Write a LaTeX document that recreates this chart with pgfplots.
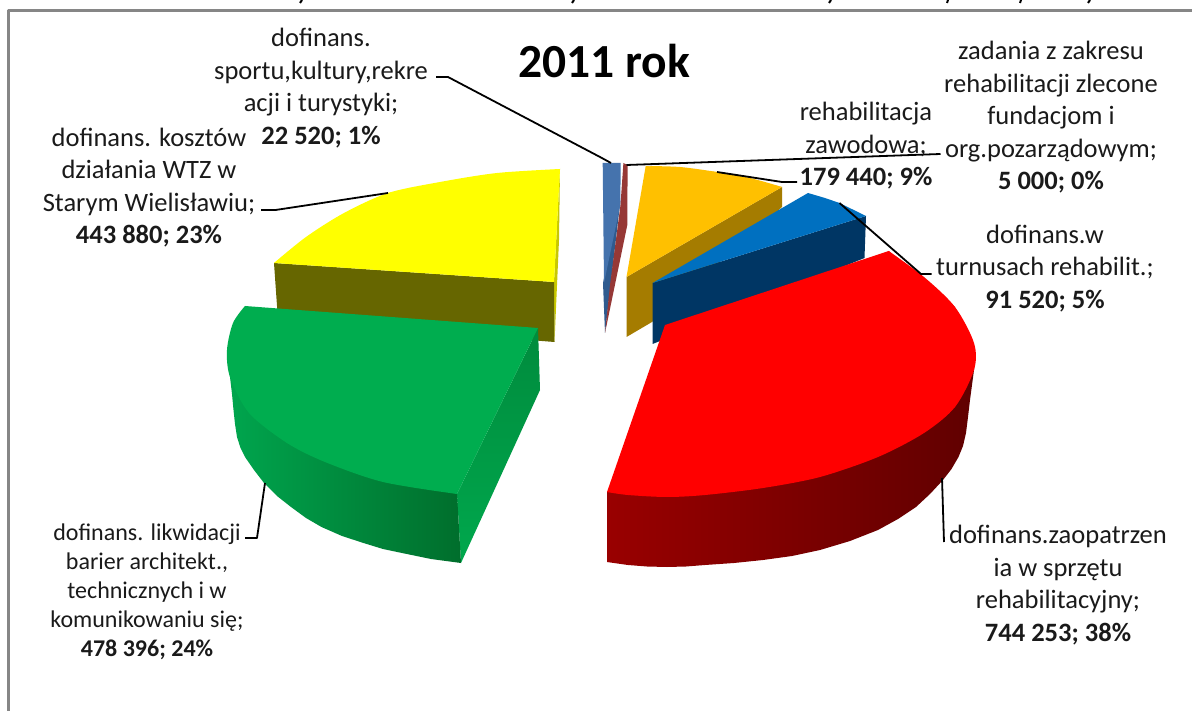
\documentclass[border=0pt]{standalone}
\usepackage{pgfplots}
\pgfplotsset{compat=1.18}
\usepackage{fontspec}
\setmainfont{Carlito}
\definecolor{frame}{HTML}{868686}
\definecolor{txt}{HTML}{1A1A1A}
\definecolor{steel}{HTML}{4573AD}
\definecolor{steeld}{HTML}{2F5B8F}
\definecolor{maroon}{HTML}{963836}
\definecolor{orangep}{HTML}{FFC000}
\definecolor{oranged}{HTML}{A57C00}
\definecolor{bluep}{HTML}{0070C0}
\definecolor{blued}{HTML}{003664}
\definecolor{yellowp}{HTML}{FFFF00}
\definecolor{yellowd}{HTML}{666600}
\definecolor{yellowm}{HTML}{C8C800}
\definecolor{greenp}{HTML}{00AD4F}
\definecolor{greena}{HTML}{00A64E}
\definecolor{greenb}{HTML}{009642}
\definecolor{greenc}{HTML}{006E2C}
\definecolor{greent}{HTML}{008B3D}
\definecolor{greenu}{HTML}{00A84D}
\definecolor{reda}{HTML}{990000}
\definecolor{redb}{HTML}{600000}
\tikzset{lab/.style={align=center, anchor=north, inner sep=0pt, text=txt, font=\fontsize{26.5}{32.5}\selectfont}}
\begin{document}
\begin{tikzpicture}
\begin{axis}[
  scale only axis, width=1192pt, height=711pt,
  xmin=0, xmax=1192, ymin=0, ymax=711, y dir=reverse,
  hide axis, clip=true,
  every axis plot/.append style={line join=round},
]
% page background
\addplot[draw=none, fill=white] coordinates {(0,0) (1192,0) (1192,711) (0,711)} --cycle;
% chart frame
\addplot[frame, line width=3pt] coordinates {(1192,10.5) (8.5,10.5) (8.5,711)};
% what is left of the cropped line above the chart
\addplot[black, line width=2pt] coordinates {(302,0) (300,3)};
\addplot[black, line width=2pt] coordinates {(574,0) (572,3)};
\addplot[black, line width=2pt] coordinates {(831,0) (829,3)};
\addplot[black, line width=2pt] coordinates {(948,0) (947,3)};
\addplot[black, line width=2pt] coordinates {(1021,0) (1020,3)};
\addplot[black, line width=2pt] coordinates {(1090,0) (1088,3)};

% thin slices at the back
\addplot[draw=none, fill=steeld] coordinates {(603,283) (620.5,200) (605,333)} --cycle;
\addplot[draw=none, fill=steel] coordinates {(602.7,163) (620.7,163) (620.3,205) (604,283)} --cycle;
\addplot[draw=none, fill=maroon] coordinates {(623.4,163) (627.6,165) (627.3,225) (605,333) (610,285) (620.5,205)} --cycle;

% orange slice
\addplot[draw=none, fill=oranged] coordinates {(626.5,277) (782,187) (782,207) (652,322) (626.5,337)} --cycle;
\addplot[draw=none, fill=orangep] coordinates {(645.7,166) (717,172) (782,187) (626.5,277)} --cycle;
\addplot[draw=none, fill=orangep, smooth] coordinates {(645.7,166) (680,167) (717,172) (750,178) (782,187)};

% blue slice
\addplot[draw=none, fill=blued] coordinates {(652.6,283) (866,216) (864.5,258) (652.6,344)} --cycle;
\addplot[draw=none, fill=bluep] coordinates {(808,193) (825,198) (839.5,203) (866,216) (652.6,283)} --cycle;

% yellow slice
\addplot[draw=none, fill=yellowm] coordinates {(560,169) (559,240) (554.5,342) (554,282)} --cycle;
\addplot[draw=none, fill=yellowd] coordinates {(274,263) (554,282) (554.5,342) (278,320)} --cycle;
\addplot[draw=none, fill=yellowp] coordinates {(560,169) (554,282) (274,263) (388,193)} --cycle;
\addplot[draw=none, fill=yellowp, smooth] coordinates {(560,169) (497,173) (440,182) (388,193) (344,213) (306,237) (274,263)};

% green slice
\addplot[draw=none, top color=greent, bottom color=greenu] coordinates {(538,328) (540,390) (461,563) (457,494)} --cycle;
\addplot[draw=none, left color=greena, middle color=greenb, right color=greenc] coordinates {(227,350) (228.5,364) (230,377) (232,394) (233.5,410) (235,424) (237,437) (240.5,448) (245,457) (254,470) (264,483) (277,496) (291,507) (306,518) (321.5,527) (342,536) (363.5,543) (383,549) (402,553) (431,559) (461,563) (457,494)} --cycle;
\addplot[draw=none, fill=greenp] coordinates {(245,306) (538,328) (457,494) (287,443) (230,377)} --cycle;
\addplot[draw=none, fill=greenp, smooth] coordinates {(245,306) (233,323) (227,350) (230,377) (249,413) (287,443) (325,462) (383,482) (457,494)};

% red slice
\addplot[draw=none, left color=reda, middle color=redb, right color=redb] coordinates {(975,350) (974.5,360) (974,370) (972,385) (970,400) (968,417) (966,433) (963,446) (958.5,457) (951.5,469) (943,480) (930,494) (916,507) (898,519) (878,530) (850,541) (820,550) (792,556) (763,560) (734,563) (705,565) (686,566.5) (667,567) (647,566.5) (628,565) (607,562) (607,492)} --cycle;
\addplot[draw=none, fill=red] coordinates {(888.7,251) (955,307) (955,407) (705,495) (607,492) (665,325)} --cycle;
\addplot[draw=none, fill=red, smooth] coordinates {(888.7,251) (924,277) (955,307) (974,343) (974,370) (955,407) (924,433) (878,457) (820,477) (763,488) (705,495) (667,497) (628,495) (607,492)};

% leader lines
\addplot[black, line width=1.8pt] coordinates {(436,77) (448,77) (600,157) (611,163)};
\addplot[black, line width=1.8pt] coordinates {(940.5,154) (626.5,165)};
\addplot[black, line width=1.8pt] coordinates {(797,182) (782,182) (717,172)};
\addplot[black, line width=1.8pt] coordinates {(931.6,274) (921,274) (839.5,203)};
\addplot[black, line width=1.8pt] coordinates {(261,210) (275.5,210) (388,193)};
\addplot[black, line width=1.8pt] coordinates {(245,538) (257,538) (265,483)};
\addplot[black, line width=1.8pt] coordinates {(944,542) (942,478)};

% title and labels
\node[font=\fontsize{47.5}{50}\selectfont\bfseries, anchor=center] at (axis cs:604,61) {2011 rok};
\node[lab] at (axis cs:321,28) {dofinans.\\sportu,kultury,rekre\\acji i turystyki;\\\textbf{22 520; 1\%}};
\node[lab] at (axis cs:149,127.5) {dofinans. kosztów\\działania WTZ w\\Starym Wielisławiu;\\\textbf{443 880; 23\%}};
\node[lab] at (axis cs:866,102) {rehabilitacja\\zawodowa;\\\textbf{179 440; 9\%}};
\node[lab] at (axis cs:1051,41) {zadania z zakresu\\rehabilitacji zlecone\\fundacjom i\\org.pozarządowym;\\\textbf{5 000; 0\%}};
\node[lab] at (axis cs:1045,224.5) {dofinans.w\\turnusach rehabilit.;\\\textbf{91 520; 5\%}};
\node[lab, font=\fontsize{24}{29}\selectfont] at (axis cs:147,523.5) {dofinans. likwidacji\\barier architekt.,\\technicznych i w\\komunikowaniu się;\\\textbf{478 396; 24\%}};
\node[lab] at (axis cs:1058,525) {dofinans.zaopatrzen\\ia w sprzętu\\rehabilitacyjny;\\\textbf{744 253; 38\%}};
\end{axis}
\end{tikzpicture}
\end{document}
